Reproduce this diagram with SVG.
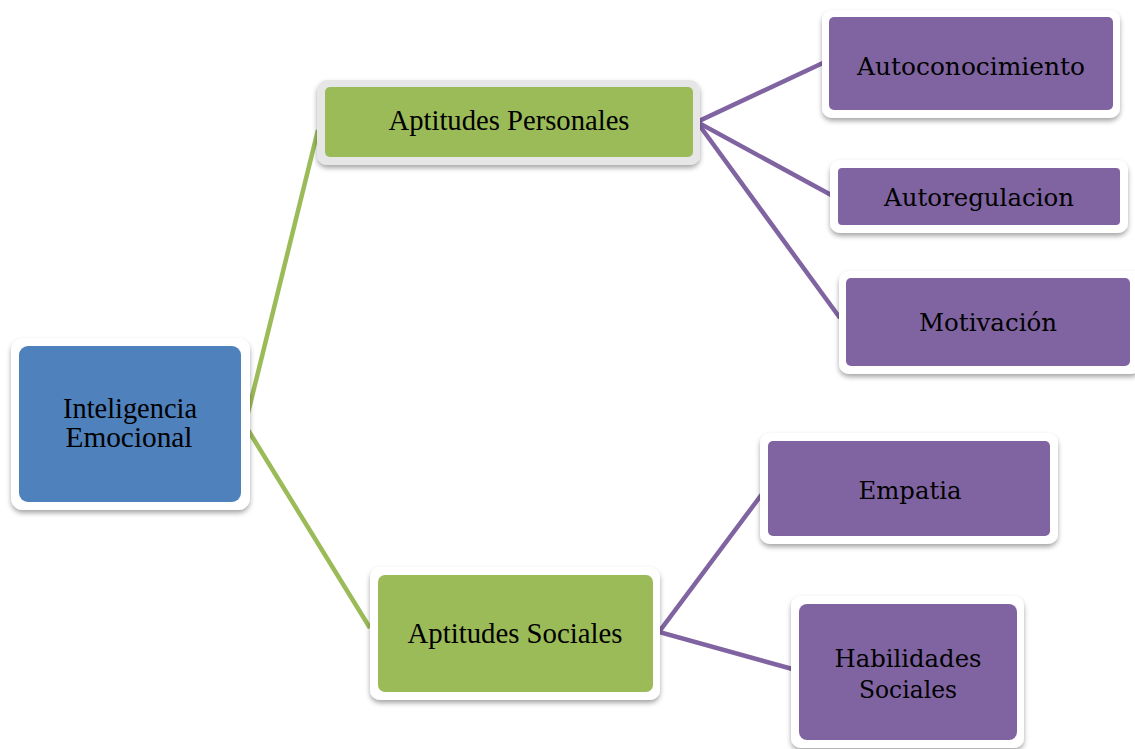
<svg xmlns="http://www.w3.org/2000/svg" width="1135" height="749" viewBox="0 0 1135 749">
<defs>
<filter id="sh" x="-10%" y="-10%" width="120%" height="130%">
<feDropShadow dx="0" dy="3" stdDeviation="2.5" flood-color="#000" flood-opacity="0.35"/>
</filter>
<style>
.frame{fill:#fff;filter:url(#sh)}
.frameg{fill:#e6e6e6;filter:url(#sh)}
.blue{fill:#4f81bd}
.green{fill:#9bbb59}
.purple{fill:#8064a2}
text{font-family:"Liberation Serif","Times New Roman",serif;font-size:28.5px;fill:#000;text-anchor:middle}
.p{font-family:"DejaVu Serif","Liberation Serif",serif;font-size:25px}
.gl{stroke:#9bbb59;stroke-width:4.5;fill:none}
.pl{stroke:#8064a2;stroke-width:4.5;fill:none}
</style>
</defs>
<g id="connectors">
<polyline class="gl" points="318,130 245,425 370,628"/>
<polyline class="pl" points="825,62 697,122 833,196"/>
<line class="pl" x1="697" y1="122" x2="840" y2="318"/>
<polyline class="pl" points="765,490 659,632 796,670"/>
</g>
<g id="inteligencia">
<rect class="frame" x="11" y="338" width="239" height="172" rx="12"/>
<rect class="blue" x="19" y="346" width="222" height="156" rx="9"/>
<text x="130" y="418" textLength="134" lengthAdjust="spacingAndGlyphs">Inteligencia</text>
<text x="129" y="447" textLength="127" lengthAdjust="spacingAndGlyphs">Emocional</text>
</g>
<g id="aptitudes-personales">
<rect class="frameg" x="317" y="80" width="383" height="85" rx="10"/>
<rect class="green" x="325" y="87" width="368" height="70" rx="5"/>
<text x="509" y="130" textLength="241" lengthAdjust="spacingAndGlyphs">Aptitudes Personales</text>
</g>
<g id="aptitudes-sociales">
<rect class="frame" x="370" y="567" width="290" height="133" rx="10"/>
<rect class="green" x="378" y="575" width="275" height="117" rx="7"/>
<text x="515" y="643" textLength="215" lengthAdjust="spacingAndGlyphs">Aptitudes Sociales</text>
</g>
<g id="autoconocimiento">
<rect class="frame" x="822" y="10" width="298" height="108" rx="10"/>
<rect class="purple" x="829" y="17" width="284" height="93" rx="5"/>
<text class="p" x="971" y="75" textLength="228" lengthAdjust="spacingAndGlyphs">Autoconocimiento</text>
</g>
<g id="autoregulacion">
<rect class="frame" x="830" y="160" width="298" height="73" rx="10"/>
<rect class="purple" x="838" y="168" width="282" height="57" rx="4"/>
<text class="p" x="979" y="206" textLength="190" lengthAdjust="spacingAndGlyphs">Autoregulacion</text>
</g>
<g id="motivacion">
<rect class="frame" x="839" y="271" width="302" height="103" rx="10"/>
<rect class="purple" x="846" y="278" width="284" height="88" rx="5"/>
<text class="p" x="988" y="331" textLength="138" lengthAdjust="spacingAndGlyphs">Motivación</text>
</g>
<g id="empatia">
<rect class="frame" x="760" y="433" width="298" height="111" rx="10"/>
<rect class="purple" x="768" y="441" width="282" height="95" rx="5"/>
<text class="p" x="910" y="499" textLength="103" lengthAdjust="spacingAndGlyphs">Empatia</text>
</g>
<g id="habilidades-sociales">
<rect class="frame" x="791" y="596" width="233" height="152" rx="10"/>
<rect class="purple" x="799" y="604" width="218" height="136" rx="8"/>
<text class="p" x="908" y="667" textLength="147" lengthAdjust="spacingAndGlyphs">Habilidades</text>
<text class="p" x="908" y="698" textLength="98" lengthAdjust="spacingAndGlyphs">Sociales</text>
</g>
</svg>
